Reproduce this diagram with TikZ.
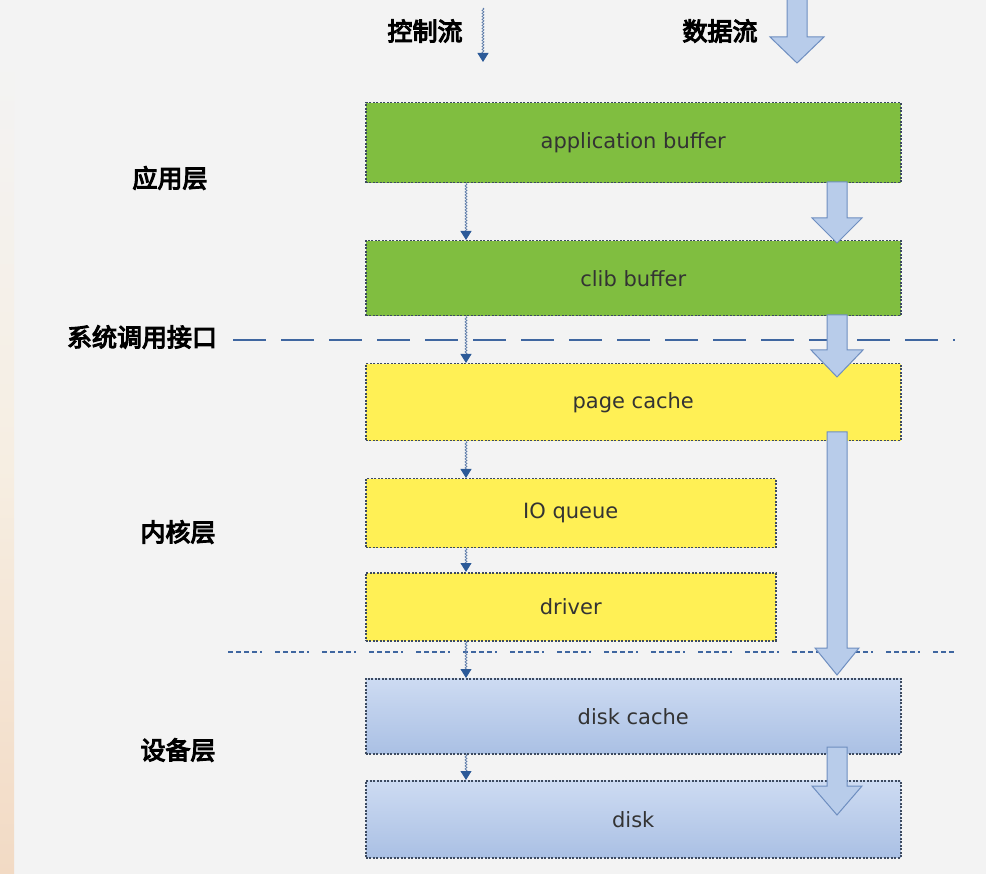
\documentclass[tikz,border=0pt]{standalone}
\usepackage{fontspec}
\setmainfont{DejaVu Sans}
\newfontfamily\cjkb[FakeBold=4.5]{Noto Sans CJK SC}
\usetikzlibrary{arrows.meta,decorations.pathmorphing}
\definecolor{bg}{HTML}{F3F3F3}
\definecolor{greenbox}{RGB}{128,190,64}
\definecolor{yellowbox}{RGB}{255,240,85}
\definecolor{bluetop}{RGB}{205,219,242}
\definecolor{bluebot}{RGB}{170,192,228}
\definecolor{boxline}{HTML}{3C4A60}
\definecolor{ctrlline}{HTML}{5E7CAA}
\definecolor{ctrlhead}{HTML}{2C5A98}
\definecolor{dataline}{HTML}{6E8EC0}
\definecolor{datafill}{RGB}{184,204,234}
\definecolor{sepline}{HTML}{3F66A0}
\definecolor{txt}{HTML}{333333}
\definecolor{peach}{RGB}{242,218,196}
\tikzset{
  layerbox/.style={draw=boxline, line width=1.5pt, dash pattern=on 2pt off 1.5pt, anchor=north west, inner sep=0pt, font=\fontsize{21}{21}\selectfont, text=txt},
  greenstyle/.style={layerbox, fill=greenbox},
  yellowstyle/.style={layerbox, fill=yellowbox},
  bluestyle/.style={layerbox, top color=bluetop, bottom color=bluebot},
  ctrl/.style={draw=ctrlline, line width=0.8pt, decorate, decoration={snake, amplitude=0.9pt, segment length=3pt, post length=7pt},
    arrows={-{Triangle[width=11pt,length=9pt,fill=ctrlhead,color=ctrlhead]}}},
  dataarrow/.style={draw=dataline, line width=1pt, fill=datafill, line join=miter},
  layerlabel/.style={font=\cjkb\fontsize{25}{25}\selectfont, text=black},
}
\newcommand\blockarr[5]{%
  \draw[dataarrow] (#1-10,#2) -- (#1+10,#2) -- (#1+10,#3) -- (#1+#5,#3) -- (#1,#4) -- (#1-#5,#3) -- (#1-10,#3) -- cycle;}
\begin{document}
\begin{tikzpicture}[x=1pt,y=-1pt]
\useasboundingbox (0,0) rectangle (986,874);
\fill[bg] (0,0) rectangle (986,874);
\shade[top color=bg, bottom color=peach, middle color={rgb,255:red,246;green,238;blue,226}] (0,60) rectangle (14,874);

% boxes
\node[greenstyle, minimum width=535pt, minimum height=80pt] (app) at (365,102) {application buffer};
\node[greenstyle, minimum width=535pt, minimum height=75pt] (clib) at (365,240) {clib buffer};
\node[yellowstyle, minimum width=535pt, minimum height=77pt] (page) at (365,363) {page cache};
\node[yellowstyle, minimum width=410pt, minimum height=69pt] (ioq) at (365,478) {IO queue};
\node[yellowstyle, minimum width=410pt, minimum height=68pt] (drv) at (365,572) {driver};
\node[bluestyle, minimum width=535pt, minimum height=75pt] (dcache) at (365,678) {disk cache};
\node[bluestyle, minimum width=535pt, minimum height=77pt] (disk) at (365,780) {disk};

% separator lines
\coordinate (s1a) at (233,340); \coordinate (s1b) at (955,340);
\coordinate (s2a) at (228,652); \coordinate (s2b) at (955,652);
\draw[sepline, line width=1.6pt, dash pattern=on 33pt off 15pt] (s1a) -- (s1b);
\draw[sepline, line width=2.6pt, dash pattern=on 5pt off 3pt on 5pt off 3pt on 5pt off 3pt on 5pt off 3pt on 2pt off 13pt] (s2a) -- (s2b);

% labels
\node[layerlabel] (lctrl) at (425,31) {控制流};
\node[layerlabel] (ldata) at (720,31) {数据流};
\node[layerlabel] (lapp) at (170,178) {应用层};
\node[layerlabel] (lsys) at (142,337) {系统调用接口};
\node[layerlabel] (lker) at (178,532) {内核层};
\node[layerlabel] (ldev) at (178,750) {设备层};

% control flow arrows
\coordinate (ctop) at (483,8);
\coordinate (cend) at (483,62);
\draw[ctrl] (ctop) -- (cend);
\draw[ctrl] (app.south west -| 466,0) -- (clib.north west -| 466,0);
\draw[ctrl] (clib.south west -| 466,0) -- (page.north west -| 466,0);
\draw[ctrl] (page.south west -| 466,0) -- (ioq.north west -| 466,0);
\draw[ctrl] (ioq.south west -| 466,0) -- (drv.north west -| 466,0);
\draw[ctrl] (drv.south west -| 466,0) -- (dcache.north west -| 466,0);
\draw[ctrl] (dcache.south west -| 466,0) -- (disk.north west -| 466,0);

% data flow arrows
\blockarr{797}{-3}{37}{63}{27}
\blockarr{837}{182}{218}{243}{25}
\blockarr{837}{315}{350}{377}{26}
\blockarr{837}{432}{648}{675}{22}
\blockarr{837}{747}{786}{815}{25}
\end{tikzpicture}
\end{document}
